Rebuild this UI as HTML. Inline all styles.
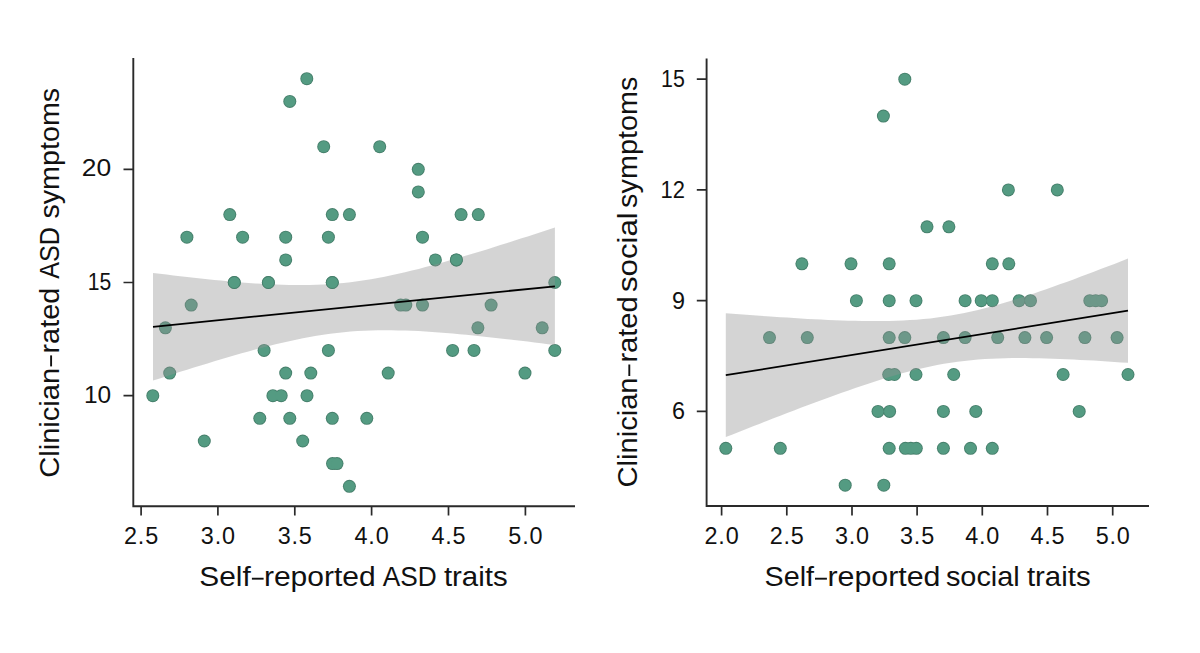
<!DOCTYPE html><html><head><meta charset="utf-8"><style>html,body{margin:0;padding:0;background:#fff;width:1200px;height:653px;overflow:hidden}svg{display:block}text{font-family:"Liberation Sans",sans-serif;fill:#111111}</style></head><body>
<svg width="1200" height="653" viewBox="0 0 1200 653">
<rect width="1200" height="653" fill="#fff"/>
<g fill="#467f6b"><circle cx="306.8" cy="78.7" r="6.50"/><circle cx="289.8" cy="101.4" r="6.50"/><circle cx="323.7" cy="146.7" r="6.50"/><circle cx="379.7" cy="146.7" r="6.50"/><circle cx="418.3" cy="169.3" r="6.50"/><circle cx="418.3" cy="191.9" r="6.50"/><circle cx="229.8" cy="214.6" r="6.50"/><circle cx="332.3" cy="214.6" r="6.50"/><circle cx="349.4" cy="214.6" r="6.50"/><circle cx="461.1" cy="214.6" r="6.50"/><circle cx="478.3" cy="214.6" r="6.50"/><circle cx="186.9" cy="237.2" r="6.50"/><circle cx="242.6" cy="237.2" r="6.50"/><circle cx="285.7" cy="237.2" r="6.50"/><circle cx="328.4" cy="237.2" r="6.50"/><circle cx="422.5" cy="237.2" r="6.50"/><circle cx="285.7" cy="259.9" r="6.50"/><circle cx="435.4" cy="259.9" r="6.50"/><circle cx="456.4" cy="259.9" r="6.50"/><circle cx="234.3" cy="282.5" r="6.50"/><circle cx="268.4" cy="282.5" r="6.50"/><circle cx="332.3" cy="282.5" r="6.50"/><circle cx="554.8" cy="282.5" r="6.50"/><circle cx="191.2" cy="305.1" r="6.50"/><circle cx="400.7" cy="305.1" r="6.50"/><circle cx="405.8" cy="305.1" r="6.50"/><circle cx="422.5" cy="305.1" r="6.50"/><circle cx="491.1" cy="305.1" r="6.50"/><circle cx="165.4" cy="327.8" r="6.50"/><circle cx="477.9" cy="327.8" r="6.50"/><circle cx="542.2" cy="327.8" r="6.50"/><circle cx="264.1" cy="350.4" r="6.50"/><circle cx="328.4" cy="350.4" r="6.50"/><circle cx="452.6" cy="350.4" r="6.50"/><circle cx="474.0" cy="350.4" r="6.50"/><circle cx="554.8" cy="350.4" r="6.50"/><circle cx="169.7" cy="373.1" r="6.50"/><circle cx="285.7" cy="373.1" r="6.50"/><circle cx="310.8" cy="373.1" r="6.50"/><circle cx="388.2" cy="373.1" r="6.50"/><circle cx="525.0" cy="373.1" r="6.50"/><circle cx="152.8" cy="395.7" r="6.50"/><circle cx="272.9" cy="395.7" r="6.50"/><circle cx="281.2" cy="395.7" r="6.50"/><circle cx="307.0" cy="395.7" r="6.50"/><circle cx="259.8" cy="418.3" r="6.50"/><circle cx="289.8" cy="418.3" r="6.50"/><circle cx="332.3" cy="418.3" r="6.50"/><circle cx="366.8" cy="418.3" r="6.50"/><circle cx="204.3" cy="441.0" r="6.50"/><circle cx="302.7" cy="441.0" r="6.50"/><circle cx="332.5" cy="463.6" r="6.50"/><circle cx="337.0" cy="463.6" r="6.50"/><circle cx="349.4" cy="486.3" r="6.50"/></g>
<g fill="#549b82"><circle cx="306.8" cy="78.7" r="5.60"/><circle cx="289.8" cy="101.4" r="5.60"/><circle cx="323.7" cy="146.7" r="5.60"/><circle cx="379.7" cy="146.7" r="5.60"/><circle cx="418.3" cy="169.3" r="5.60"/><circle cx="418.3" cy="191.9" r="5.60"/><circle cx="229.8" cy="214.6" r="5.60"/><circle cx="332.3" cy="214.6" r="5.60"/><circle cx="349.4" cy="214.6" r="5.60"/><circle cx="461.1" cy="214.6" r="5.60"/><circle cx="478.3" cy="214.6" r="5.60"/><circle cx="186.9" cy="237.2" r="5.60"/><circle cx="242.6" cy="237.2" r="5.60"/><circle cx="285.7" cy="237.2" r="5.60"/><circle cx="328.4" cy="237.2" r="5.60"/><circle cx="422.5" cy="237.2" r="5.60"/><circle cx="285.7" cy="259.9" r="5.60"/><circle cx="435.4" cy="259.9" r="5.60"/><circle cx="456.4" cy="259.9" r="5.60"/><circle cx="234.3" cy="282.5" r="5.60"/><circle cx="268.4" cy="282.5" r="5.60"/><circle cx="332.3" cy="282.5" r="5.60"/><circle cx="554.8" cy="282.5" r="5.60"/><circle cx="191.2" cy="305.1" r="5.60"/><circle cx="400.7" cy="305.1" r="5.60"/><circle cx="405.8" cy="305.1" r="5.60"/><circle cx="422.5" cy="305.1" r="5.60"/><circle cx="491.1" cy="305.1" r="5.60"/><circle cx="165.4" cy="327.8" r="5.60"/><circle cx="477.9" cy="327.8" r="5.60"/><circle cx="542.2" cy="327.8" r="5.60"/><circle cx="264.1" cy="350.4" r="5.60"/><circle cx="328.4" cy="350.4" r="5.60"/><circle cx="452.6" cy="350.4" r="5.60"/><circle cx="474.0" cy="350.4" r="5.60"/><circle cx="554.8" cy="350.4" r="5.60"/><circle cx="169.7" cy="373.1" r="5.60"/><circle cx="285.7" cy="373.1" r="5.60"/><circle cx="310.8" cy="373.1" r="5.60"/><circle cx="388.2" cy="373.1" r="5.60"/><circle cx="525.0" cy="373.1" r="5.60"/><circle cx="152.8" cy="395.7" r="5.60"/><circle cx="272.9" cy="395.7" r="5.60"/><circle cx="281.2" cy="395.7" r="5.60"/><circle cx="307.0" cy="395.7" r="5.60"/><circle cx="259.8" cy="418.3" r="5.60"/><circle cx="289.8" cy="418.3" r="5.60"/><circle cx="332.3" cy="418.3" r="5.60"/><circle cx="366.8" cy="418.3" r="5.60"/><circle cx="204.3" cy="441.0" r="5.60"/><circle cx="302.7" cy="441.0" r="5.60"/><circle cx="332.5" cy="463.6" r="5.60"/><circle cx="337.0" cy="463.6" r="5.60"/><circle cx="349.4" cy="486.3" r="5.60"/></g>
<path d="M153.0,273.0 L159.8,273.8 L166.6,274.6 L173.4,275.4 L180.2,276.2 L187.1,277.0 L193.9,277.7 L200.7,278.5 L207.5,279.2 L214.3,279.9 L221.1,280.6 L227.9,281.2 L234.7,281.8 L241.6,282.4 L248.4,282.9 L255.2,283.4 L262.0,283.8 L268.8,284.2 L275.6,284.5 L282.4,284.8 L289.2,284.9 L296.0,285.0 L302.9,285.1 L309.7,285.0 L316.5,284.8 L323.3,284.5 L330.1,284.1 L336.9,283.6 L343.7,282.9 L350.5,282.2 L357.4,281.3 L364.2,280.3 L371.0,279.2 L377.8,278.0 L384.6,276.7 L391.4,275.3 L398.2,273.8 L405.0,272.2 L411.9,270.6 L418.7,268.9 L425.5,267.1 L432.3,265.3 L439.1,263.4 L445.9,261.5 L452.7,259.6 L459.5,257.6 L466.3,255.6 L473.2,253.6 L480.0,251.5 L486.8,249.4 L493.6,247.3 L500.4,245.1 L507.2,243.0 L514.0,240.8 L520.8,238.6 L527.7,236.5 L534.5,234.2 L541.3,232.0 L548.1,229.8 L554.9,227.6 L554.9,345.0 L548.1,344.2 L541.3,343.3 L534.5,342.5 L527.7,341.6 L520.8,340.8 L514.0,340.0 L507.2,339.2 L500.4,338.4 L493.6,337.7 L486.8,336.9 L480.0,336.2 L473.2,335.5 L466.3,334.8 L459.5,334.2 L452.7,333.6 L445.9,333.0 L439.1,332.5 L432.3,332.0 L425.5,331.5 L418.7,331.1 L411.9,330.8 L405.0,330.5 L398.2,330.4 L391.4,330.2 L384.6,330.2 L377.8,330.3 L371.0,330.4 L364.2,330.7 L357.4,331.1 L350.5,331.6 L343.7,332.2 L336.9,332.9 L330.1,333.8 L323.3,334.7 L316.5,335.8 L309.7,337.0 L302.9,338.3 L296.0,339.7 L289.2,341.2 L282.4,342.7 L275.6,344.3 L268.8,346.0 L262.0,347.8 L255.2,349.6 L248.4,351.4 L241.6,353.3 L234.7,355.3 L227.9,357.3 L221.1,359.3 L214.3,361.3 L207.5,363.4 L200.7,365.4 L193.9,367.6 L187.1,369.7 L180.2,371.8 L173.4,374.0 L166.6,376.2 L159.8,378.4 L153.0,380.6 Z" fill="#939393" fill-opacity="0.4"/>
<g fill="#467f6b"><circle cx="456.4" cy="259.9" r="6.50"/><circle cx="234.3" cy="282.5" r="6.50"/><circle cx="268.4" cy="282.5" r="6.50"/><circle cx="332.3" cy="282.5" r="6.50"/></g>
<g fill="#549b82"><circle cx="456.4" cy="259.9" r="5.60"/><circle cx="234.3" cy="282.5" r="5.60"/><circle cx="268.4" cy="282.5" r="5.60"/><circle cx="332.3" cy="282.5" r="5.60"/></g>
<line x1="153.0" y1="326.8" x2="554.9" y2="286.3" stroke="#000" stroke-width="1.8"/>
<path d="M133.3,58 V506.2 H575" fill="none" stroke="#2a2a2a" stroke-width="1.9"/>
<path d="M123.5,395.7 H133.3 M123.5,282.5 H133.3 M123.5,169.3 H133.3 M141.1,506.2 V515.5 M217.9,506.2 V515.5 M294.8,506.2 V515.5 M371.6,506.2 V515.5 M448.5,506.2 V515.5 M525.4,506.2 V515.5" fill="none" stroke="#2a2a2a" stroke-width="1.7"/>
<text x="111.2" y="402.7" font-size="23.4" text-anchor="end" textLength="27.2" lengthAdjust="spacingAndGlyphs">10</text>
<text x="111.2" y="289.5" font-size="23.4" text-anchor="end" textLength="23.5" lengthAdjust="spacingAndGlyphs">15</text>
<text x="111.2" y="176.3" font-size="23.4" text-anchor="end" textLength="29.4" lengthAdjust="spacingAndGlyphs">20</text>
<text x="141.5" y="544.4" font-size="23.4" letter-spacing="0.8" text-anchor="middle">2.5</text>
<text x="218.3" y="544.4" font-size="23.4" letter-spacing="0.8" text-anchor="middle">3.0</text>
<text x="295.2" y="544.4" font-size="23.4" letter-spacing="0.8" text-anchor="middle">3.5</text>
<text x="372.0" y="544.4" font-size="23.4" letter-spacing="0.8" text-anchor="middle">4.0</text>
<text x="448.9" y="544.4" font-size="23.4" letter-spacing="0.8" text-anchor="middle">4.5</text>
<text x="525.8" y="544.4" font-size="23.4" letter-spacing="0.8" text-anchor="middle">5.0</text>
<text x="225.00" y="585.8" font-size="27.5" text-anchor="middle" textLength="51.40" lengthAdjust="spacingAndGlyphs">Self</text>
<text x="319.75" y="585.8" font-size="27.5" text-anchor="middle" textLength="111.70" lengthAdjust="spacingAndGlyphs">reported</text>
<text x="409.70" y="585.8" font-size="27.5" text-anchor="middle" textLength="54.00" lengthAdjust="spacingAndGlyphs">ASD</text>
<text x="475.80" y="585.8" font-size="27.5" text-anchor="middle" textLength="63.80" lengthAdjust="spacingAndGlyphs">traits</text>
<rect x="251.90" y="577.75" width="11.70" height="1.9" fill="#111111"/>
<text transform="translate(58.8,422.85) rotate(-90)" x="0" y="0" font-size="27.5" text-anchor="middle" textLength="109.90" lengthAdjust="spacingAndGlyphs">Clinician</text>
<text transform="translate(58.8,320.65) rotate(-90)" x="0" y="0" font-size="27.5" text-anchor="middle" textLength="65.70" lengthAdjust="spacingAndGlyphs">rated</text>
<text transform="translate(58.8,252.85) rotate(-90)" x="0" y="0" font-size="27.5" text-anchor="middle" textLength="51.70" lengthAdjust="spacingAndGlyphs">ASD</text>
<text transform="translate(58.8,153.20) rotate(-90)" x="0" y="0" font-size="27.5" text-anchor="middle" textLength="130.80" lengthAdjust="spacingAndGlyphs">symptoms</text>
<rect x="50.15" y="355.40" width="1.9" height="11.00" fill="#111111"/>
<g fill="#467f6b"><circle cx="904.8" cy="79.2" r="6.50"/><circle cx="883.4" cy="116.1" r="6.50"/><circle cx="1008.4" cy="189.9" r="6.50"/><circle cx="1057.3" cy="189.9" r="6.50"/><circle cx="927.0" cy="226.8" r="6.50"/><circle cx="948.9" cy="226.8" r="6.50"/><circle cx="801.9" cy="263.8" r="6.50"/><circle cx="851.0" cy="263.8" r="6.50"/><circle cx="889.2" cy="263.8" r="6.50"/><circle cx="992.3" cy="263.8" r="6.50"/><circle cx="1008.8" cy="263.8" r="6.50"/><circle cx="856.4" cy="300.7" r="6.50"/><circle cx="889.2" cy="300.7" r="6.50"/><circle cx="916.0" cy="300.7" r="6.50"/><circle cx="965.1" cy="300.7" r="6.50"/><circle cx="981.2" cy="300.7" r="6.50"/><circle cx="992.3" cy="300.7" r="6.50"/><circle cx="1019.1" cy="300.7" r="6.50"/><circle cx="1030.5" cy="300.7" r="6.50"/><circle cx="1089.8" cy="300.7" r="6.50"/><circle cx="1095.7" cy="300.7" r="6.50"/><circle cx="1101.6" cy="300.7" r="6.50"/><circle cx="769.5" cy="337.6" r="6.50"/><circle cx="807.3" cy="337.6" r="6.50"/><circle cx="889.2" cy="337.6" r="6.50"/><circle cx="904.8" cy="337.6" r="6.50"/><circle cx="943.4" cy="337.6" r="6.50"/><circle cx="965.1" cy="337.6" r="6.50"/><circle cx="997.7" cy="337.6" r="6.50"/><circle cx="1024.9" cy="337.6" r="6.50"/><circle cx="1046.6" cy="337.6" r="6.50"/><circle cx="1084.9" cy="337.6" r="6.50"/><circle cx="1117.1" cy="337.6" r="6.50"/><circle cx="888.7" cy="374.5" r="6.50"/><circle cx="894.5" cy="374.5" r="6.50"/><circle cx="916.0" cy="374.5" r="6.50"/><circle cx="953.7" cy="374.5" r="6.50"/><circle cx="1063.1" cy="374.5" r="6.50"/><circle cx="1128.0" cy="374.5" r="6.50"/><circle cx="878.0" cy="411.4" r="6.50"/><circle cx="889.6" cy="411.4" r="6.50"/><circle cx="943.4" cy="411.4" r="6.50"/><circle cx="975.8" cy="411.4" r="6.50"/><circle cx="1079.2" cy="411.4" r="6.50"/><circle cx="725.8" cy="448.3" r="6.50"/><circle cx="780.3" cy="448.3" r="6.50"/><circle cx="889.2" cy="448.3" r="6.50"/><circle cx="905.4" cy="448.3" r="6.50"/><circle cx="910.8" cy="448.3" r="6.50"/><circle cx="916.3" cy="448.3" r="6.50"/><circle cx="943.4" cy="448.3" r="6.50"/><circle cx="970.5" cy="448.3" r="6.50"/><circle cx="992.3" cy="448.3" r="6.50"/><circle cx="845.2" cy="485.2" r="6.50"/><circle cx="883.8" cy="485.2" r="6.50"/></g>
<g fill="#549b82"><circle cx="904.8" cy="79.2" r="5.60"/><circle cx="883.4" cy="116.1" r="5.60"/><circle cx="1008.4" cy="189.9" r="5.60"/><circle cx="1057.3" cy="189.9" r="5.60"/><circle cx="927.0" cy="226.8" r="5.60"/><circle cx="948.9" cy="226.8" r="5.60"/><circle cx="801.9" cy="263.8" r="5.60"/><circle cx="851.0" cy="263.8" r="5.60"/><circle cx="889.2" cy="263.8" r="5.60"/><circle cx="992.3" cy="263.8" r="5.60"/><circle cx="1008.8" cy="263.8" r="5.60"/><circle cx="856.4" cy="300.7" r="5.60"/><circle cx="889.2" cy="300.7" r="5.60"/><circle cx="916.0" cy="300.7" r="5.60"/><circle cx="965.1" cy="300.7" r="5.60"/><circle cx="981.2" cy="300.7" r="5.60"/><circle cx="992.3" cy="300.7" r="5.60"/><circle cx="1019.1" cy="300.7" r="5.60"/><circle cx="1030.5" cy="300.7" r="5.60"/><circle cx="1089.8" cy="300.7" r="5.60"/><circle cx="1095.7" cy="300.7" r="5.60"/><circle cx="1101.6" cy="300.7" r="5.60"/><circle cx="769.5" cy="337.6" r="5.60"/><circle cx="807.3" cy="337.6" r="5.60"/><circle cx="889.2" cy="337.6" r="5.60"/><circle cx="904.8" cy="337.6" r="5.60"/><circle cx="943.4" cy="337.6" r="5.60"/><circle cx="965.1" cy="337.6" r="5.60"/><circle cx="997.7" cy="337.6" r="5.60"/><circle cx="1024.9" cy="337.6" r="5.60"/><circle cx="1046.6" cy="337.6" r="5.60"/><circle cx="1084.9" cy="337.6" r="5.60"/><circle cx="1117.1" cy="337.6" r="5.60"/><circle cx="888.7" cy="374.5" r="5.60"/><circle cx="894.5" cy="374.5" r="5.60"/><circle cx="916.0" cy="374.5" r="5.60"/><circle cx="953.7" cy="374.5" r="5.60"/><circle cx="1063.1" cy="374.5" r="5.60"/><circle cx="1128.0" cy="374.5" r="5.60"/><circle cx="878.0" cy="411.4" r="5.60"/><circle cx="889.6" cy="411.4" r="5.60"/><circle cx="943.4" cy="411.4" r="5.60"/><circle cx="975.8" cy="411.4" r="5.60"/><circle cx="1079.2" cy="411.4" r="5.60"/><circle cx="725.8" cy="448.3" r="5.60"/><circle cx="780.3" cy="448.3" r="5.60"/><circle cx="889.2" cy="448.3" r="5.60"/><circle cx="905.4" cy="448.3" r="5.60"/><circle cx="910.8" cy="448.3" r="5.60"/><circle cx="916.3" cy="448.3" r="5.60"/><circle cx="943.4" cy="448.3" r="5.60"/><circle cx="970.5" cy="448.3" r="5.60"/><circle cx="992.3" cy="448.3" r="5.60"/><circle cx="845.2" cy="485.2" r="5.60"/><circle cx="883.8" cy="485.2" r="5.60"/></g>
<path d="M725.8,313.2 L732.6,313.7 L739.4,314.3 L746.3,314.8 L753.1,315.3 L759.9,315.8 L766.7,316.3 L773.5,316.7 L780.3,317.2 L787.2,317.6 L794.0,318.1 L800.8,318.5 L807.6,318.9 L814.4,319.2 L821.2,319.6 L828.1,319.9 L834.9,320.2 L841.7,320.4 L848.5,320.7 L855.3,320.8 L862.1,321.0 L869.0,321.1 L875.8,321.1 L882.6,321.1 L889.4,320.9 L896.2,320.8 L903.0,320.5 L909.9,320.1 L916.7,319.7 L923.5,319.1 L930.3,318.4 L937.1,317.5 L943.9,316.6 L950.8,315.5 L957.6,314.3 L964.4,313.0 L971.2,311.5 L978.0,309.9 L984.8,308.2 L991.7,306.4 L998.5,304.5 L1005.3,302.5 L1012.1,300.5 L1018.9,298.3 L1025.7,296.1 L1032.6,293.9 L1039.4,291.5 L1046.2,289.2 L1053.0,286.8 L1059.8,284.3 L1066.6,281.9 L1073.5,279.4 L1080.3,276.8 L1087.1,274.3 L1093.9,271.7 L1100.7,269.1 L1107.5,266.5 L1114.4,263.9 L1121.2,261.2 L1128.0,258.6 L1128.0,362.8 L1121.2,362.4 L1114.4,361.9 L1107.5,361.5 L1100.7,361.0 L1093.9,360.6 L1087.1,360.3 L1080.3,359.9 L1073.5,359.5 L1066.6,359.2 L1059.8,358.9 L1053.0,358.7 L1046.2,358.5 L1039.4,358.3 L1032.6,358.2 L1025.7,358.1 L1018.9,358.1 L1012.1,358.1 L1005.3,358.2 L998.5,358.4 L991.7,358.7 L984.8,359.1 L978.0,359.6 L971.2,360.2 L964.4,360.9 L957.6,361.8 L950.8,362.7 L943.9,363.8 L937.1,365.1 L930.3,366.4 L923.5,367.9 L916.7,369.5 L909.9,371.2 L903.0,373.1 L896.2,375.0 L889.4,377.0 L882.6,379.0 L875.8,381.2 L869.0,383.4 L862.1,385.7 L855.3,388.0 L848.5,390.4 L841.7,392.8 L834.9,395.2 L828.1,397.7 L821.2,400.2 L814.4,402.7 L807.6,405.3 L800.8,407.8 L794.0,410.4 L787.2,413.1 L780.3,415.7 L773.5,418.3 L766.7,421.0 L759.9,423.7 L753.1,426.3 L746.3,429.0 L739.4,431.7 L732.6,434.4 L725.8,437.1 Z" fill="#939393" fill-opacity="0.4"/>
<line x1="725.8" y1="375.2" x2="1128.0" y2="310.7" stroke="#000" stroke-width="1.8"/>
<path d="M706.6,58.4 V506 H1149" fill="none" stroke="#2a2a2a" stroke-width="1.9"/>
<path d="M696.8,411.4 H706.6 M696.8,300.7 H706.6 M696.8,189.9 H706.6 M696.8,79.2 H706.6 M721.6,506.2 V515.5 M786.8,506.2 V515.5 M852.0,506.2 V515.5 M917.1,506.2 V515.5 M982.3,506.2 V515.5 M1047.5,506.2 V515.5 M1112.7,506.2 V515.5" fill="none" stroke="#2a2a2a" stroke-width="1.7"/>
<text x="684.9" y="419.2" font-size="23.4" text-anchor="end">6</text>
<text x="684.9" y="308.5" font-size="23.4" text-anchor="end">9</text>
<text x="684.9" y="197.7" font-size="23.4" text-anchor="end" textLength="24.4" lengthAdjust="spacingAndGlyphs">12</text>
<text x="684.9" y="87.0" font-size="23.4" text-anchor="end" textLength="23.8" lengthAdjust="spacingAndGlyphs">15</text>
<text x="722.0" y="544.4" font-size="23.4" letter-spacing="0.8" text-anchor="middle">2.0</text>
<text x="787.2" y="544.4" font-size="23.4" letter-spacing="0.8" text-anchor="middle">2.5</text>
<text x="852.4" y="544.4" font-size="23.4" letter-spacing="0.8" text-anchor="middle">3.0</text>
<text x="917.5" y="544.4" font-size="23.4" letter-spacing="0.8" text-anchor="middle">3.5</text>
<text x="982.7" y="544.4" font-size="23.4" letter-spacing="0.8" text-anchor="middle">4.0</text>
<text x="1047.9" y="544.4" font-size="23.4" letter-spacing="0.8" text-anchor="middle">4.5</text>
<text x="1113.1" y="544.4" font-size="23.4" letter-spacing="0.8" text-anchor="middle">5.0</text>
<text x="789.35" y="585.8" font-size="27.5" text-anchor="middle" textLength="49.50" lengthAdjust="spacingAndGlyphs">Self</text>
<text x="883.95" y="585.8" font-size="27.5" text-anchor="middle" textLength="113.10" lengthAdjust="spacingAndGlyphs">reported</text>
<text x="982.85" y="585.8" font-size="27.5" text-anchor="middle" textLength="73.90" lengthAdjust="spacingAndGlyphs">social</text>
<text x="1058.75" y="585.8" font-size="27.5" text-anchor="middle" textLength="63.70" lengthAdjust="spacingAndGlyphs">traits</text>
<rect x="815.00" y="577.75" width="11.90" height="1.9" fill="#111111"/>
<text transform="translate(636.8,432.45) rotate(-90)" x="0" y="0" font-size="27.5" text-anchor="middle" textLength="109.90" lengthAdjust="spacingAndGlyphs">Clinician</text>
<text transform="translate(636.8,329.45) rotate(-90)" x="0" y="0" font-size="27.5" text-anchor="middle" textLength="66.30" lengthAdjust="spacingAndGlyphs">rated</text>
<text transform="translate(636.8,252.10) rotate(-90)" x="0" y="0" font-size="27.5" text-anchor="middle" textLength="79.80" lengthAdjust="spacingAndGlyphs">social</text>
<text transform="translate(636.8,142.20) rotate(-90)" x="0" y="0" font-size="27.5" text-anchor="middle" textLength="131.40" lengthAdjust="spacingAndGlyphs">symptoms</text>
<rect x="628.35" y="364.50" width="1.9" height="11.50" fill="#111111"/>
</svg></body></html>
